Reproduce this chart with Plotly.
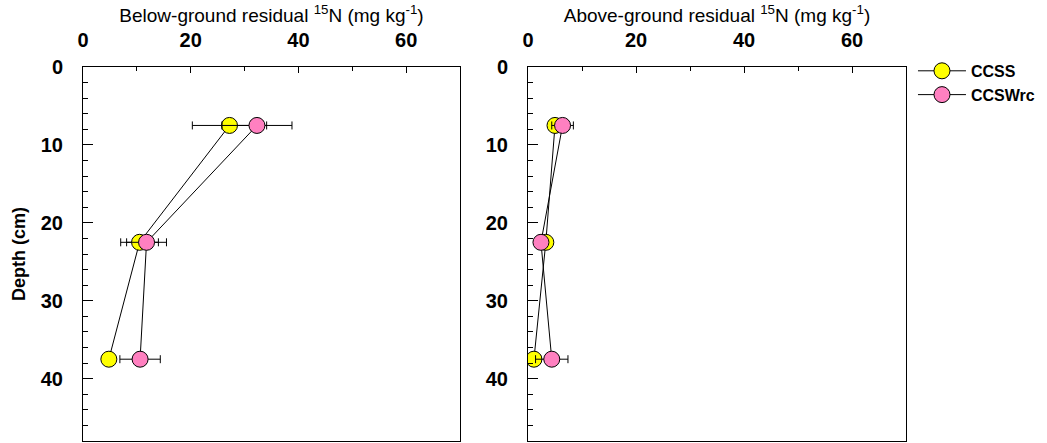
import plotly.graph_objects as go

depth = [7.5, 22.5, 37.5]

# Below-ground residual 15N (mg kg-1)
below_ccss = [27.2, 10.5, 4.8]
below_ccss_err = [6.9, 3.5, 1.0]
below_ccswrc = [32.3, 11.8, 10.6]
below_ccswrc_err = [6.5, 3.7, 3.75]

# Above-ground residual 15N (mg kg-1)
above_ccss = [5.0, 3.3, 1.1]
above_ccss_err = [1.1, 0.6, 1.25]
above_ccswrc = [6.4, 2.4, 4.4]
above_ccswrc_err = [2.0, 0.5, 3.0]

series_names = ["CCSS", "CCSWrc"]
colors = ["#ffff00", "#ff80c0"]

FONT = "Liberation Sans, Arial, Helvetica, sans-serif"

fig = go.Figure()

def add(x, err, name, color, xa, ya, show):
    fig.add_trace(go.Scatter(
        x=x, y=depth, mode="lines+markers", name=name,
        xaxis=xa, yaxis=ya, showlegend=show,
        line=dict(color="black", width=1),
        marker=dict(size=16, color=color, line=dict(color="black", width=1)),
        error_x=dict(type="data", array=err, visible=True, color="black",
                     thickness=1, width=4),
    ))

add(below_ccss, below_ccss_err, series_names[0], colors[0], "x", "y", True)
add(below_ccswrc, below_ccswrc_err, series_names[1], colors[1], "x", "y", True)
add(above_ccss, above_ccss_err, series_names[0], colors[0], "x2", "y2", False)
add(above_ccswrc, above_ccswrc_err, series_names[1], colors[1], "x2", "y2", False)

W, H = 1047, 443

tickfont = dict(family=FONT, size=20, color="black", weight="bold")

def xax(domain, anchor, title):
    return dict(
        domain=domain, anchor=anchor, side="top", range=[0, 70],
        tickmode="array", tickvals=[0, 20, 40, 60],
        ticks="inside", ticklen=6, tickcolor="black", tickwidth=1,
        minor=dict(tickvals=[10, 30, 50], ticks="inside", ticklen=4,
                   tickcolor="black", tickwidth=1),
        showline=True, linecolor="black", linewidth=1, mirror=True,
        showgrid=False, zeroline=False,
        tickfont=tickfont, ticklabelstandoff=11,
        title=dict(text=title, font=dict(family=FONT, size=19, color="black"),
                   standoff=1),
    )

def yax(domain, anchor, title):
    d = dict(
        domain=domain, anchor=anchor, range=[48, 0],
        tickmode="array", tickvals=[0, 10, 20, 30, 40],
        ticks="inside", ticklen=10, tickcolor="black", tickwidth=1,
        minor=dict(tickvals=[2, 4, 6, 8, 12, 14, 16, 18, 22, 24, 26, 28,
                             32, 34, 36, 38, 42, 44, 46],
                   ticks="inside", ticklen=5, tickcolor="black", tickwidth=1),
        showline=True, linecolor="black", linewidth=1, mirror=True,
        showgrid=False, zeroline=False,
        tickfont=tickfont, ticklabelstandoff=15,
    )
    if title:
        d["title"] = dict(text=title, font=dict(family=FONT, size=18, color="black",
                                                weight="bold"), standoff=10)
    return d

fig.update_layout(
    width=W, height=H,
    margin=dict(l=0, r=0, t=67, b=2, autoexpand=False),
    paper_bgcolor="white", plot_bgcolor="white",
    font=dict(family=FONT, color="black"),
    xaxis=xax([83 / W, 460 / W], "y",
              "Below-ground residual <sup>15</sup>N (mg kg<sup>-1</sup>)"),
    yaxis=yax([0, 1], "x", "Depth (cm)"),
    xaxis2=xax([528 / W, 906 / W], "y2",
               "Above-ground residual <sup>15</sup>N (mg kg<sup>-1</sup>)"),
    yaxis2=yax([0, 1], "x2", None),
    legend=dict(x=0.872, y=1.035, xanchor="left", yanchor="top",
                font=dict(family=FONT, size=16, color="black", weight="bold"),
                bgcolor="rgba(0,0,0,0)", tracegroupgap=0, itemwidth=48),
    showlegend=True,
)

fig.write_html("out.html")
